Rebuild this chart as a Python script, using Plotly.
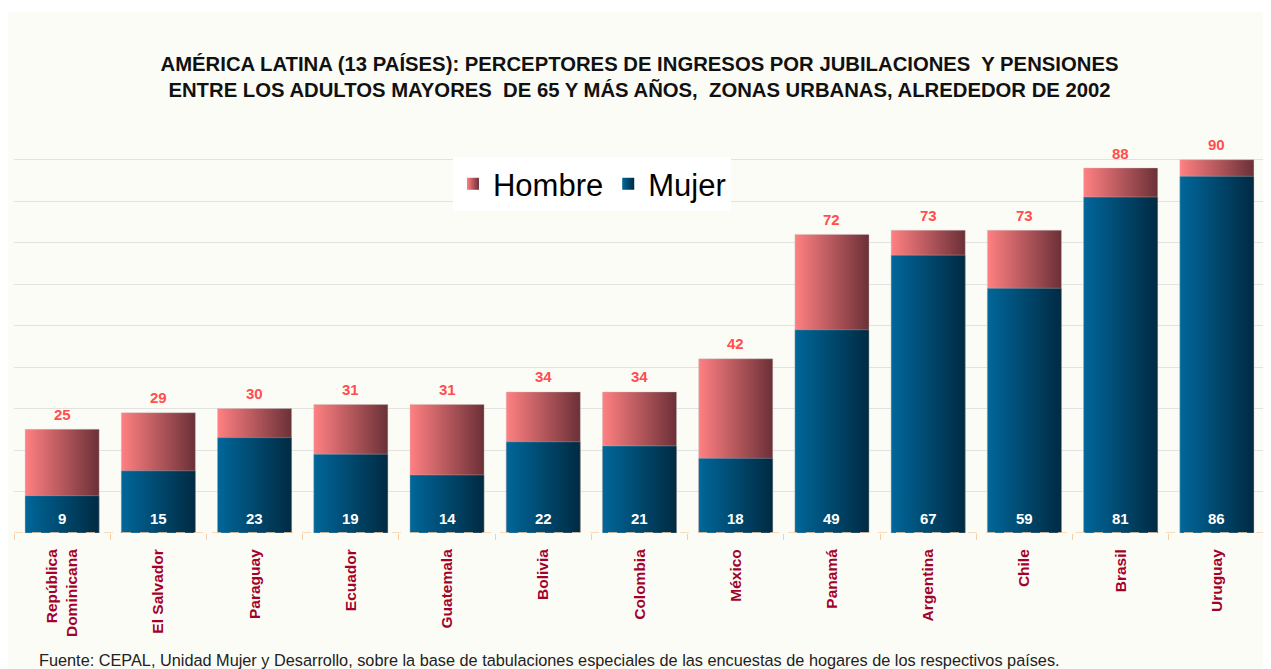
import plotly.graph_objects as go

paises = ['República<br>Dominicana', 'El Salvador', 'Paraguay', 'Ecuador', 'Guatemala',
          'Bolivia', 'Colombia', 'México', 'Panamá', 'Argentina', 'Chile', 'Brasil', 'Uruguay']
hombre = [25, 29, 30, 31, 31, 34, 34, 42, 72, 73, 73, 88, 90]
mujer = [9, 15, 23, 19, 14, 22, 21, 18, 49, 67, 59, 81, 86]

HALF = 0.385
ROSA = ('#FF8082', '#6B3037')
AZUL = ('#00679A', '#002A42')
NARROW = 'Liberation Sans Narrow, Arial Narrow, Liberation Sans'

fig = go.Figure()


def add_bar(i, val, cols):
    # bar drawn as a filled polygon so it can carry a horizontal gradient
    fig.add_trace(go.Scatter(
        x=[i - HALF, i + HALF, i + HALF, i - HALF, i - HALF],
        y=[0, 0, val, val, 0],
        mode='lines', fill='toself',
        line=dict(width=0.6, color='rgba(200,200,200,0.6)'),
        fillgradient=dict(type='horizontal', colorscale=[[0, cols[0]], [1, cols[1]]]),
        showlegend=False, hoverinfo='skip',
    ))


for i, v in enumerate(hombre):
    add_bar(i, v, ROSA)
for i, v in enumerate(mujer):
    add_bar(i, v, AZUL)

# legend entries only
for name, cols in [('Hombre', ROSA), ('Mujer', AZUL)]:
    fig.add_trace(go.Scatter(
        x=[None], y=[None], mode='markers', name=name,
        marker=dict(symbol='square', size=21, color=cols[0],
                    gradient=dict(type='horizontal', color=cols[1]), line=dict(width=0)),
    ))

idx = list(range(len(paises)))
annotations = []
for i, v in enumerate(hombre):
    annotations.append(dict(x=i, y=v, text=f'<b>{v}</b>', showarrow=False, yshift=15,
                            font=dict(color='#FF4E4E', size=15, family=NARROW)))
for i, v in enumerate(mujer):
    annotations.append(dict(x=i, y=0, text=f'<b>{v}</b>', showarrow=False, yshift=15,
                            font=dict(color='white', size=15, family=NARROW)))
annotations.append(dict(
    text='Fuente: CEPAL, Unidad Mujer y Desarrollo, sobre la base de tabulaciones especiales '
         'de las encuestas de hogares de los respectivos países.',
    xref='paper', yref='paper', x=0.018, xanchor='left', y=-0.322, yanchor='middle',
    showarrow=False, font=dict(size=16.3, color='#222222'),
))

fig.update_xaxes(
    range=[-0.5, len(paises) - 0.5], automargin=False,
    tickvals=idx, ticktext=[f'<b>{p}</b>' for p in paises],
    tickangle=-90, ticks='outside', ticklen=9, tickcolor='rgba(0,0,0,0)',
    showgrid=False, zeroline=False, showline=False,
    tickfont=dict(family=NARROW, size=15.5, color='#A3002A'),
    minor=dict(tickvals=[i - 0.5 for i in range(len(paises) + 1)], ticks='outside',
               ticklen=6, tickcolor='#F5CFA8', tickwidth=1, showgrid=False),
)
fig.update_yaxes(
    range=[0, 95], dtick=10, showticklabels=False, showgrid=True, automargin=False,
    gridcolor='#E2E2E2', gridwidth=1, zeroline=False, showline=False,
)

# page body adds an 8px margin, so the figure is 8px smaller than the window
fig.update_layout(
    width=1263, height=661,
    margin=dict(l=6, r=6, t=131, b=136, autoexpand=False),
    paper_bgcolor='white', plot_bgcolor='rgba(0,0,0,0)',
    font=dict(family='Liberation Sans, Arial, sans-serif'),
    title=dict(
        text='<b>AMÉRICA LATINA (13 PAÍSES): PERCEPTORES DE INGRESOS POR JUBILACIONES  Y PENSIONES<br>'
             'ENTRE LOS ADULTOS MAYORES  DE 65 Y MÁS AÑOS,  ZONAS URBANAS, ALREDEDOR DE 2002</b>',
        x=0.5, xanchor='center', y=0.9054, yanchor='middle',
        font=dict(size=20.3, color='#111111'),
    ),
    legend=dict(
        orientation='h', x=0.462, xanchor='center', y=0.954, yanchor='top',
        bgcolor='white', font=dict(size=31, color='black'),
        itemsizing='constant', itemwidth=30,
    ),
    showlegend=True,
    annotations=annotations,
    shapes=[
        dict(type='rect', xref='paper', yref='paper', x0=-0.0048, x1=1.01, y0=-0.36, y1=1.322,
             fillcolor='#FCFCF6', line=dict(width=0), layer='below'),
        dict(type='line', xref='paper', yref='y', x0=0, x1=1, y0=0, y1=0,
             line=dict(color='#F5CFA8', width=1.5, dash='dash')),
    ],
)

fig.write_html('out.html')
